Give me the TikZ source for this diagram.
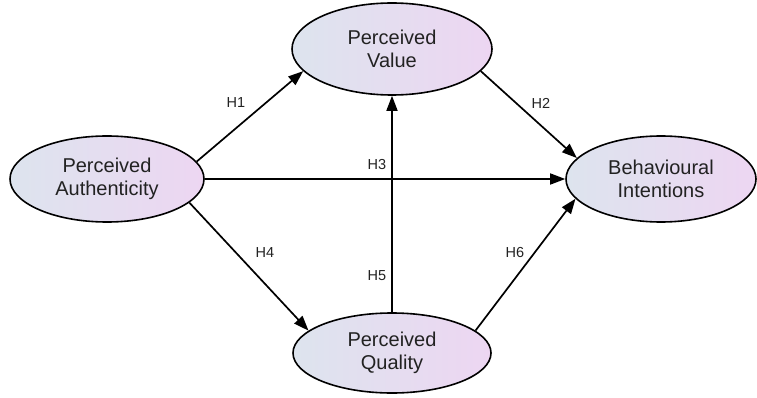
\documentclass[tikz,border=0pt]{standalone}
\usepackage{fontspec}
\setmainfont{Liberation Sans}
\usetikzlibrary{shapes,arrows.meta,calc}
\usetikzlibrary{positioning}
\definecolor{fg}{HTML}{222222}
\definecolor{leftfill}{HTML}{DDE4EE}
\definecolor{rightfill}{HTML}{EDD6F2}
\tikzstyle{construct}=[draw, ellipse, line width=1.6pt, inner sep=0pt,
left color=leftfill, right color=rightfill, align=center, text=fg,
font=\fontsize{20}{23}\selectfont]
\tikzstyle{myarrow}=[-{Triangle[length=15pt,width=11pt]}, line width=1.7pt]
\tikzstyle{hyp}=[text=fg, font=\fontsize{14.5}{16}\selectfont]

\begin{document}
\begin{tikzpicture}[x=1pt, y=-1pt]
    \useasboundingbox (0,0) rectangle (757,398);

    \node[construct, minimum width=194pt, minimum height=86pt] (PA) at (107,179) {Perceived\\Authenticity};
    \node[construct, minimum width=200pt, minimum height=92pt] (PV) at (392,49) {Perceived\\Value};
    \node[construct, minimum width=198pt, minimum height=80pt] (PQ) at (392,353) {Perceived\\Quality};
    \node[construct, minimum width=190pt, minimum height=86pt] (BI) at (661,179) {Behavioural\\Intentions};

    \draw[myarrow] (PA.11) -- (PV.194) ;
    \draw[myarrow] (PV.346) -- (BI.166) ;
    \draw[myarrow] (PA) -- (BI) ;
    \draw[myarrow] (PA.344) -- (PQ.165) ;
    \draw[myarrow] (PQ) -- (PV) ;
    \draw[myarrow] (PQ.15) -- (BI.193) ;

    % hypothesis labels
    \node[hyp] (h1) at (236,103) {H1};
    \node[hyp] (h2) at (541,103) {H2};
    \node[hyp] (h3) at (377,165) {H3};
    \node[hyp] (h4) at (265,253) {H4};
    \node[hyp] (h5) at (377,276) {H5};
    \node[hyp] (h6) at (515,253) {H6};
\end{tikzpicture}
\end{document}
